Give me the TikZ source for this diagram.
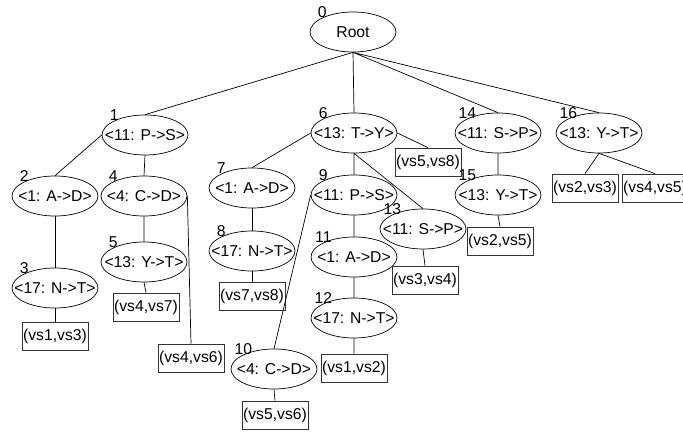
\documentclass[tikz,border=0pt]{standalone}
\usepackage{fontspec}
\setmainfont{Liberation Sans}
\usepackage{tikz}
\usetikzlibrary{shapes.geometric}
\newcommand{\tfont}{\fontsize{13.4}{16}\selectfont}
\newcommand{\nt}[1]{\makebox[0pt]{#1}}

\begin{document}
\begin{tikzpicture}[
    x=0.03cm, y=-0.03cm,
    pat/.style={ellipse, draw, line width=0.6pt, minimum width=2.58cm, minimum height=1.2cm, inner sep=0pt, font=\tfont},
    occ/.style={rectangle, draw=black!80, line width=0.6pt, minimum width=1.95cm, minimum height=0.84cm, inner sep=1pt, font=\tfont},
    num/.style={font=\tfont, inner sep=0pt, anchor=south},
    link/.style={line width=0.6pt}
]
\clip (0,0) rectangle (683,433);

% Root
\node[pat, label={[num]north west:0}] (n0) at (353,32) {\nt{Root}};

% First level
\node[pat, label={[num]north west:1}] (n1) at (145,135) {\nt{<11: P->S>}};
\node[pat, label={[num]north west:6}] (n6) at (354,133) {\nt{<13: T->Y>}};
\node[pat, label={[num]north west:14}] (n14) at (498,133) {\nt{<11: S->P>}};
\node[pat, label={[num]north west:16}] (n16) at (599,133) {\nt{<13: Y->T>}};

% Branch 1
\node[pat, label={[num]north west:2}] (n2) at (55,196) {\nt{<1: A->D>}};
\node[pat, label={[num]north west:3}] (n3) at (55,288) {\nt{<17: N->T>}};
\node[pat, label={[num]north west:4}] (n4) at (144,196) {\nt{<4: C->D>}};
\node[pat, label={[num]north west:5}] (n5) at (144,262) {\nt{<13: Y->T>}};
\node[occ] (b3) at (55,336) {(vs1,vs3)};
\node[occ] (b5) at (146,307) {(vs4,vs7)};
\node[occ] (b4) at (191,358) {(vs4,vs6)};

% Branch 6
\node[pat, label={[num]north west:7}] (n7) at (252,188) {\nt{<1: A->D>}};
\node[pat, label={[num]north west:8}] (n8) at (252,251) {\nt{<17: N->T>}};
\node[pat, label={[num]north west:9}] (n9) at (354,195) {\nt{<11: P->S>}};
\node[pat, label={[num]north west:10}] (n10) at (274,369) {\nt{<4: C->D>}};
\node[pat, label={[num]north west:11}] (n11) at (354,257) {\nt{<1: A->D>}};
\node[pat, label={[num]north west:12}] (n12) at (354,318) {\nt{<17: N->T>}};
\node[pat, label={[num]north west:13}] (n13) at (423,229) {\nt{<11: S->P>}};
\node[occ] (b6) at (428,162) {(vs5,vs8)};
\node[occ] (b8) at (252,296) {(vs7,vs8)};
\node[occ] (b10) at (275,415) {(vs5,vs6)};
\node[occ] (b12) at (354,368) {(vs1,vs2)};
\node[occ] (b13) at (425,280) {(vs3,vs4)};

% Branches 14 and 16
\node[pat, label={[num]north west:15}] (n15) at (498,195) {\nt{<13: Y->T>}};
\node[occ] (b15) at (500,241) {(vs2,vs5)};
\node[occ] (b16a) at (585,188) {(vs2,vs3)};
\node[occ] (b16b) at (655,188) {(vs4,vs5)};

% Connectors
\draw[link] (n0.south) -- (n1.north) (n0.south) -- (n6.north) (n0.south) -- (n14.north) (n0.south) -- (n16.north);
\draw[link] (n1.west) -- (n2.north) (n1.south) -- (n4.north);
\draw[link] (n2.south) -- (n3.north) (n3.south) -- (b3.north);
\draw[link] (n4.south) -- (n5.north) (n4.east) -- (b4.north) (n5.south) -- (b5.north);
\draw[link] (n6.west) -- (n7.north) (n6.south) -- (n9.north) (n6.south) -- (n13.north) (n6.east) -- (b6.north);
\draw[link] (n7.south) -- (n8.north) (n8.south) -- (b8.north);
\draw[link] (n9.west) -- (n10.north) (n9.south) -- (n11.north) (n10.south) -- (b10.north);
\draw[link] (n11.south) -- (n12.north) (n12.south) -- (b12.north) (n13.south) -- (b13.north);
\draw[link] (n14.south) -- (n15.north) (n15.south) -- (b15.north);
\draw[link] (n16.south) -- (b16a.north) (n16.south) -- (b16b.north);

\end{tikzpicture}
\end{document}
